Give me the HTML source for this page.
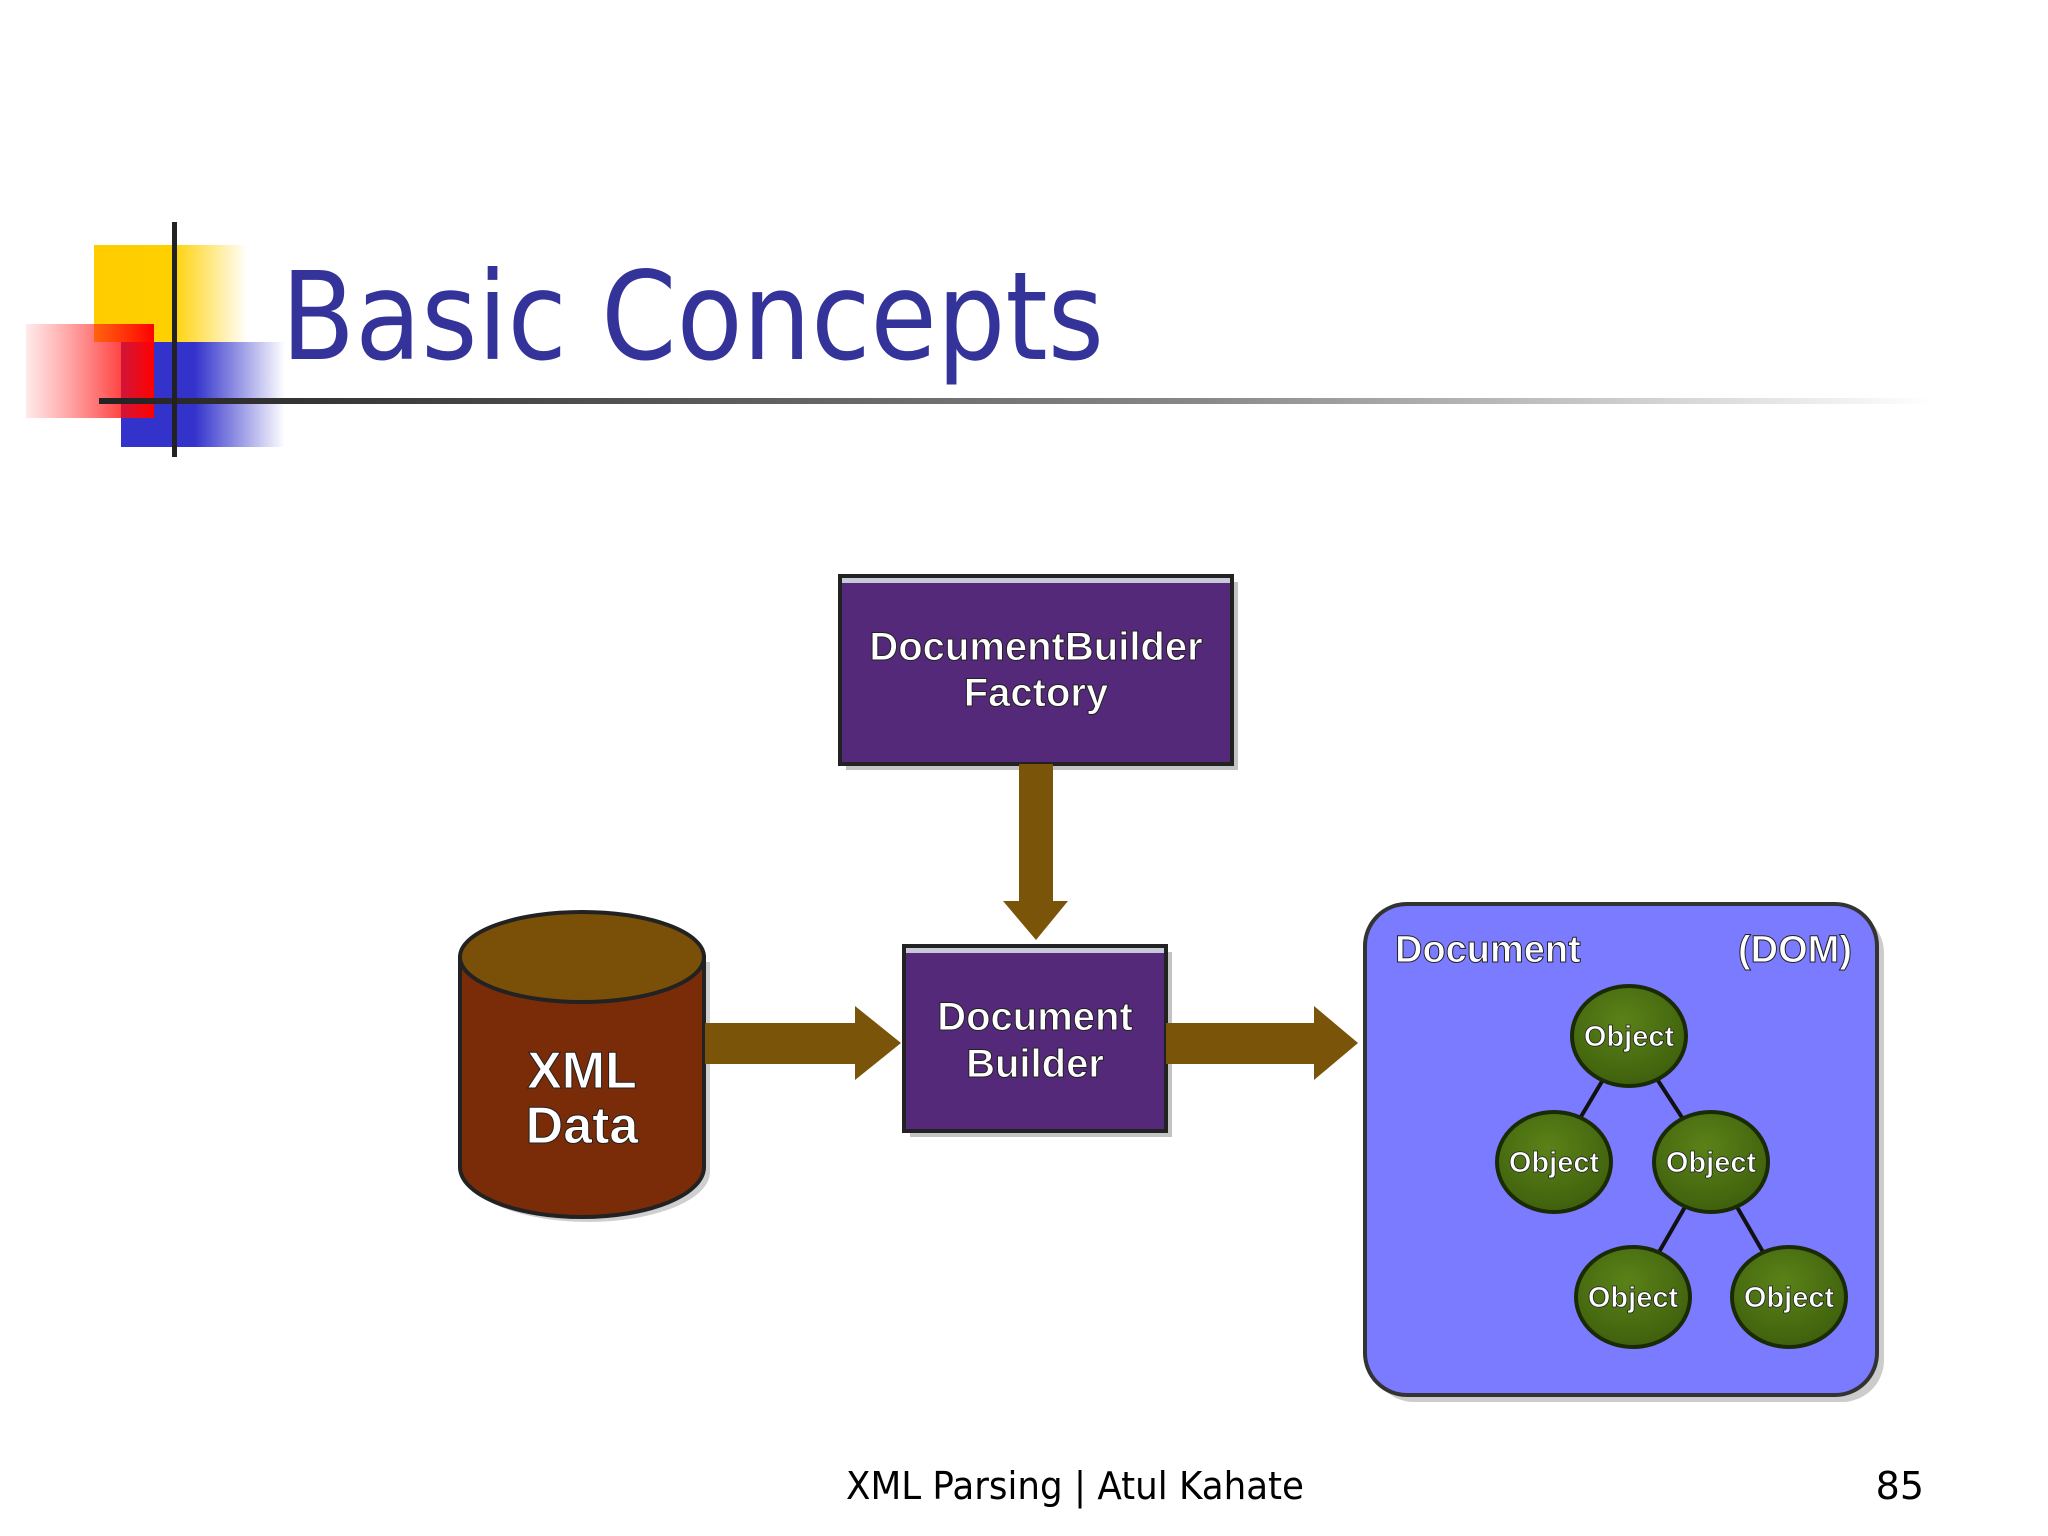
<!DOCTYPE html>
<html><head><meta charset="utf-8"><style>
html,body{margin:0;padding:0;background:#fff;}
svg{display:block;}
</style></head><body>
<svg width="2048" height="1536" viewBox="0 0 2048 1536" xmlns="http://www.w3.org/2000/svg">
<defs>
<linearGradient id="gy" x1="0" x2="1"><stop offset="0" stop-color="#ffcc00"/><stop offset="0.5" stop-color="#ffd000"/><stop offset="1" stop-color="#ffd000" stop-opacity="0"/></linearGradient>
<linearGradient id="gr" x1="0" x2="1"><stop offset="0" stop-color="#ff3030" stop-opacity="0.1"/><stop offset="1" stop-color="#ff0000"/></linearGradient>
<linearGradient id="gb" x1="0" x2="1"><stop offset="0" stop-color="#3333cc"/><stop offset="0.45" stop-color="#3333cc"/><stop offset="1" stop-color="#3333cc" stop-opacity="0"/></linearGradient>
<linearGradient id="gl" x1="0" x2="1"><stop offset="0" stop-color="#222"/><stop offset="0.6" stop-color="#888"/><stop offset="1" stop-color="#fff"/></linearGradient>
<radialGradient id="go" cx="0.45" cy="0.35" r="0.7"><stop offset="0" stop-color="#5a8218"/><stop offset="1" stop-color="#3d5e0c"/></radialGradient>
</defs>
<!-- logo -->
<rect x="94" y="245" width="154" height="97" fill="url(#gy)"/>
<rect x="121" y="342" width="164" height="105" fill="url(#gb)"/>
<rect x="26" y="324" width="128" height="94" fill="url(#gr)"/>
<rect x="99" y="398" width="1834" height="6" fill="url(#gl)"/>
<rect x="172" y="222" width="5" height="235" fill="#222"/>
<text x="281" y="359" font-family="DejaVu Sans, Liberation Sans, sans-serif" font-size="122" fill="#333399" textLength="823" lengthAdjust="spacingAndGlyphs">Basic Concepts</text>

<!-- DBF box -->
<rect x="846" y="582" width="392" height="188" fill="#888" opacity="0.5"/>
<rect x="840" y="576" width="392" height="188" fill="#55297a" stroke="#222" stroke-width="4"/>
<rect x="842" y="578" width="388" height="5" fill="#c8c8d8"/>
<g font-family="Liberation Sans, sans-serif" font-weight="bold" fill="#fff" text-anchor="middle" stroke="#222" stroke-width="1">
<text x="1036" y="660" font-size="40">DocumentBuilder</text>
<text x="1036" y="706" font-size="40">Factory</text>
</g>
<!-- vertical arrow -->
<rect x="1019" y="764" width="34" height="137" fill="#7a5408"/>
<polygon points="1003,901 1068,901 1036,940" fill="#7a5408"/>

<!-- DB box -->
<rect x="910" y="952" width="262" height="185" fill="#888" opacity="0.5"/>
<rect x="904" y="946" width="262" height="185" fill="#55297a" stroke="#222" stroke-width="4"/>
<rect x="906" y="948" width="258" height="5" fill="#c8c8d8"/>
<g font-family="Liberation Sans, sans-serif" font-weight="bold" fill="#fff" text-anchor="middle" stroke="#222" stroke-width="1">
<text x="1035" y="1030" font-size="40">Document</text>
<text x="1035" y="1077" font-size="40">Builder</text>
</g>

<!-- cylinder -->
<path d="M466,962 L466,1172 A122,50 0 0 0 710,1172 L710,962 Z" fill="#888" opacity="0.4"/>
<path d="M460,957 L460,1167 A122,50 0 0 0 704,1167 L704,957 Z" fill="#7a2c08" stroke="#222" stroke-width="4"/>
<ellipse cx="582" cy="957" rx="122" ry="45" fill="#7a5008" stroke="#222" stroke-width="4"/>
<g font-family="Liberation Sans, sans-serif" font-weight="bold" fill="#fff" text-anchor="middle" stroke="#222" stroke-width="1">
<text x="582" y="1088" font-size="52">XML</text>
<text x="582" y="1143" font-size="52">Data</text>
</g>

<!-- horizontal arrows -->
<rect x="705" y="1023" width="152" height="41" fill="#7a5408"/>
<polygon points="855,1006 901,1043 855,1080" fill="#7a5408"/>
<rect x="1166" y="1023" width="150" height="41" fill="#7a5408"/>
<polygon points="1314,1006 1358,1043 1314,1080" fill="#7a5408"/>

<!-- DOM box -->
<rect x="1372" y="911" width="512" height="491" rx="42" fill="#999" opacity="0.5"/>
<rect x="1365" y="904" width="512" height="491" rx="42" fill="#7b7bff" stroke="#333" stroke-width="4"/>
<g font-family="Liberation Sans, sans-serif" font-weight="bold" fill="#fff" stroke="#222" stroke-width="1" font-size="38">
<text x="1395" y="962">Document</text>
<text x="1852" y="962" text-anchor="end">(DOM)</text>
</g>
<g stroke="#111" stroke-width="4">
<line x1="1629" y1="1036" x2="1554" y2="1162"/>
<line x1="1629" y1="1036" x2="1711" y2="1162"/>
<line x1="1711" y1="1162" x2="1633" y2="1297"/>
<line x1="1711" y1="1162" x2="1789" y2="1297"/>
</g>
<g stroke="#1a2a05" stroke-width="4" fill="url(#go)">
<ellipse cx="1629" cy="1036" rx="57" ry="50"/>
<ellipse cx="1554" cy="1162" rx="57" ry="50"/>
<ellipse cx="1711" cy="1162" rx="57" ry="50"/>
<ellipse cx="1633" cy="1297" rx="57" ry="50"/>
<ellipse cx="1789" cy="1297" rx="57" ry="50"/>
</g>
<g font-family="Liberation Sans, sans-serif" font-weight="bold" fill="#fff" text-anchor="middle" stroke="#222" stroke-width="0.8" font-size="29">
<text x="1629" y="1046">Object</text>
<text x="1554" y="1172">Object</text>
<text x="1711" y="1172">Object</text>
<text x="1633" y="1307">Object</text>
<text x="1789" y="1307">Object</text>
</g>

<!-- footer -->
<g font-family="DejaVu Sans, Liberation Sans, sans-serif" font-size="38" fill="#000">
<text x="1075" y="1499" text-anchor="middle" textLength="458" lengthAdjust="spacingAndGlyphs">XML Parsing | Atul Kahate</text>
<text x="1924" y="1499" text-anchor="end">85</text>
</g>
</svg>
</body></html>
